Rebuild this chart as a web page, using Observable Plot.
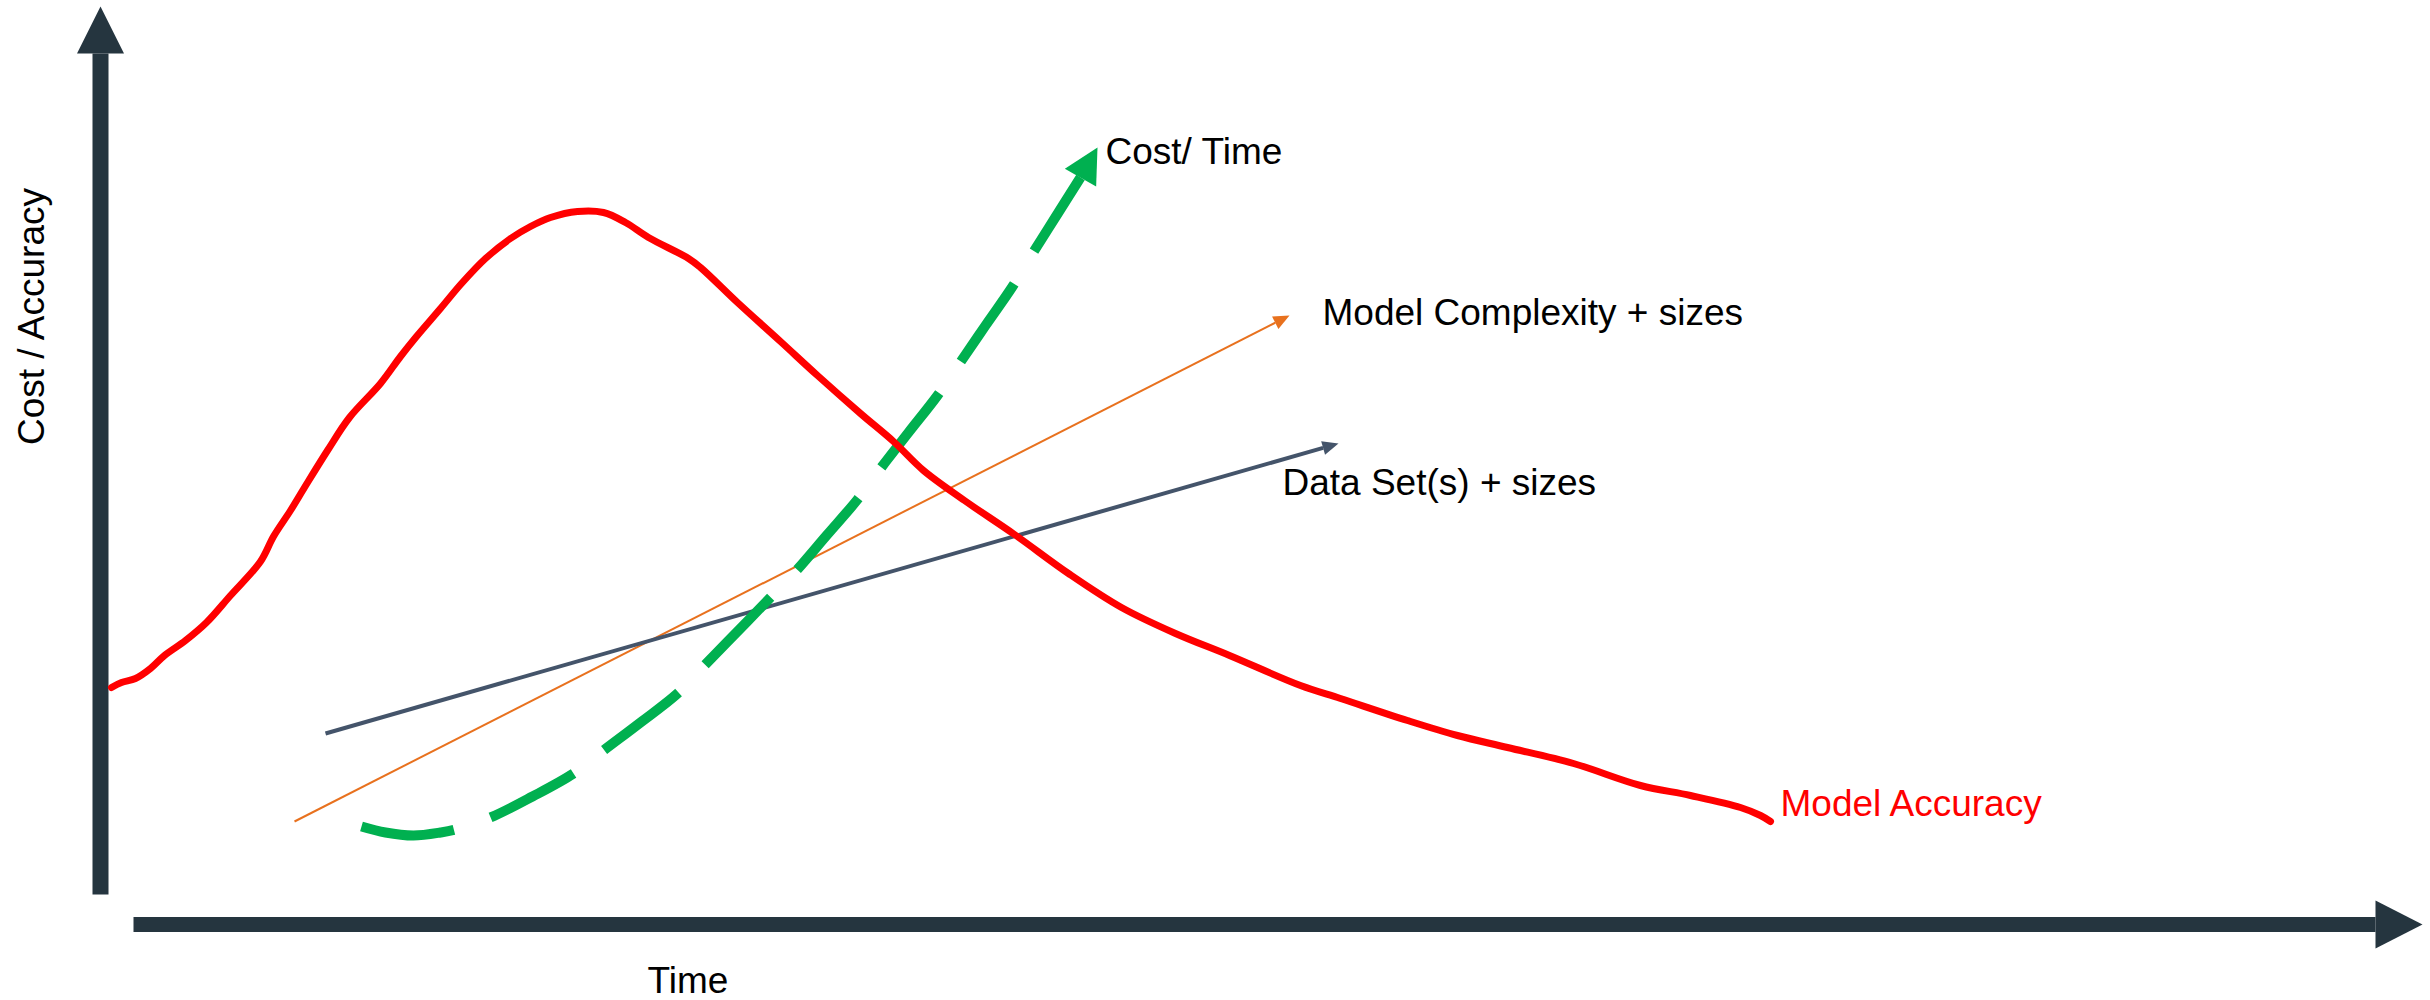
<!DOCTYPE html>
<html>
<head>
<meta charset="utf-8">
<script src="https://cdn.jsdelivr.net/npm/d3@7"></script>
<script src="https://cdn.jsdelivr.net/npm/@observablehq/plot@0.6"></script>
<style>
  html, body { margin: 0; padding: 0; background: #ffffff; }
  #chart { width: 2430px; height: 1000px; }
</style>
</head>
<body>
<div id="chart"></div>
<script>
// ---------- data (abstract units: time on x, cost / accuracy on y) ----------
const accuracyTime = [1.1, 2.1, 3.5, 5.0, 6.4, 8.5, 10.6, 13.0, 16.0, 17.3, 19.0, 20.4, 22.7, 24.9, 28.0, 30.0, 31.6, 34.0, 36.1, 38.5, 41.0, 43.0, 45.0, 47.7, 50.3, 52.5, 54.8, 58.8, 60.0, 63.7, 68.0, 71.7, 76.0, 79.3, 82.3, 86.4, 91.4, 96.8, 102.1, 107.5, 112.9, 120.0, 124.0, 130.7, 135.7, 140.7, 147.3, 154.0, 159.0, 164.0, 166.0, 167.0];
const accuracyValue = [23.9, 24.4, 24.8, 25.8, 27.1, 28.6, 30.4, 33.1, 36.5, 39.0, 41.6, 43.9, 47.6, 50.9, 54.3, 57.0, 59.0, 61.8, 64.3, 66.8, 68.8, 70.0, 70.9, 71.5, 71.4, 70.4, 68.9, 66.8, 65.9, 62.4, 58.5, 55.1, 51.3, 48.5, 45.6, 42.6, 39.2, 35.3, 31.9, 29.3, 27.1, 24.1, 22.8, 20.6, 19.1, 17.9, 16.3, 14.1, 13.1, 11.9, 11.1, 10.5];

const costTime  = [26.1, 28.5, 31.3, 34.0, 35.5, 39.0, 43.2, 47.3, 50.3, 54.0, 57.7, 60.4, 63.6, 66.8, 69.5, 72.6, 75.7, 78.0, 80.8, 83.7, 85.9, 88.5, 91.2, 93.2, 95.6, 98.0, 99.7];
const costValue = [10.0, 9.4, 9.1, 9.4, 9.7, 10.9, 13.0, 15.3, 17.6, 20.4, 23.3, 26.1, 29.4, 32.7, 35.5, 39.1, 42.7, 45.8, 49.4, 53.1, 56.3, 60.1, 64.0, 67.3, 71.1, 74.9, 77.9];

const complexityTime  = [19.4, 118.9];
const complexityValue = [10.5, 61.1];

const dataSetTime  = [22.5, 123.8];
const dataSetValue = [19.3, 48.3];

const axisXTime  = [3.3, 232.2];
const axisXValue = [0.2, 0.2];
const axisYTime  = [0, 0];
const axisYValue = [3.2, 92];

const seriesLabels = ["Cost/ Time", "Model Complexity + sizes", "Data Set(s) + sizes", "Model Accuracy"];
const seriesLabelTime  = [100.5, 122.2, 118.2, 168.0];
const seriesLabelValue = [76.3, 60.2, 43.2, 11.1];
const axisTitles = ["Time", "Cost / Accuracy"];

// ---------- helpers ----------
const zip = (ts, vs) => ts.map((t, i) => ({t, v: vs[i]}));

// Arrow: shaft up to the head base + filled triangle head
function arrow(points, len, width) {
  const tip = points[points.length - 1];
  const prev = points[points.length - 2];
  const dx = tip.t - prev.t, dy = tip.v - prev.v;
  const n = Math.hypot(dx, dy), ux = dx / n, uy = dy / n;
  const base = {t: tip.t - ux * len, v: tip.v - uy * len};
  const px = -uy * width / 2, py = ux * width / 2;
  const shaft = points.slice(0, -2).concat(
    (points.length > 2 && Math.hypot(prev.t - base.t, prev.v - base.v) < 0.3) ? [base] : [prev, base]
  );
  const head = [{t: base.t + px, v: base.v + py}, tip, {t: base.t - px, v: base.v - py}];
  return {shaft, head};
}

const accuracy = zip(accuracyTime, accuracyValue);
const cost = arrow(zip(costTime, costValue), 3.45, 3.6);
const complexity = arrow(zip(complexityTime, complexityValue), 1.6, 1.4);
const dataSet = arrow(zip(dataSetTime, dataSetValue), 1.6, 1.4);
const axisX = arrow(zip(axisXTime, axisXValue), 4.7, 4.8);
const axisY = arrow(zip(axisYTime, axisYValue), 4.7, 4.7);

const labels = zip(seriesLabelTime, seriesLabelValue).map((d, i) => ({...d, text: seriesLabels[i]}));

const AXIS = "#25353f";
const RED = "#ff0000";
const GREEN = "#00b050";
const ORANGE = "#e8711e";
const SLATE = "#44546a";
const FONT = "'Liberation Sans', Arial, Helvetica, sans-serif";
const FS = 37;

const chart = Plot.plot({
  width: 2430,
  height: 1000,
  marginLeft: 100,
  marginRight: 10,
  marginTop: 6,
  marginBottom: 74,
  x: {domain: [0, 232], axis: null},
  y: {domain: [0, 92], axis: null},
  style: {fontFamily: FONT, background: "#ffffff", overflow: "visible"},
  marks: [
    // axes
    Plot.line(axisY.shaft, {x: "t", y: "v", stroke: AXIS, strokeWidth: 16, strokeLinecap: "butt"}),
    Plot.line(axisY.head, {x: "t", y: "v", fill: AXIS, stroke: "none"}),
    Plot.line(axisX.shaft, {x: "t", y: "v", stroke: AXIS, strokeWidth: 15, strokeLinecap: "butt"}),
    Plot.line(axisX.head, {x: "t", y: "v", fill: AXIS, stroke: "none"}),

    // model complexity (orange)
    Plot.line(complexity.shaft, {x: "t", y: "v", stroke: ORANGE, strokeWidth: 2, strokeLinecap: "butt"}),
    Plot.line(complexity.head, {x: "t", y: "v", fill: ORANGE, stroke: "none"}),

    // data sets (slate)
    Plot.line(dataSet.shaft, {x: "t", y: "v", stroke: SLATE, strokeWidth: 4, strokeLinecap: "butt"}),
    Plot.line(dataSet.head, {x: "t", y: "v", fill: SLATE, stroke: "none"}),

    // cost / time (green dashed)
    Plot.line(cost.shaft, {x: "t", y: "v", stroke: GREEN, strokeWidth: 10, strokeLinecap: "butt",
      strokeDasharray: "94,38.5", curve: "catmull-rom"}),
    Plot.line(cost.head, {x: "t", y: "v", fill: GREEN, stroke: "none"}),

    // model accuracy (red)
    Plot.line(accuracy, {x: "t", y: "v", stroke: RED, strokeWidth: 7, curve: "catmull-rom",
      strokeLinecap: "round", strokeLinejoin: "round"}),

    // series labels
    Plot.text(labels.slice(0, 3), {x: "t", y: "v", text: "text", fill: "#000000", fontSize: FS,
      textAnchor: "start", lineAnchor: "bottom"}),
    Plot.text(labels.slice(3), {x: "t", y: "v", text: "text", fill: RED, fontSize: FS,
      textAnchor: "start", lineAnchor: "bottom"}),

    // axis titles
    Plot.text([axisTitles[0]], {x: 54.7, y: -6.6, text: d => d, fill: "#000000", fontSize: FS,
      textAnchor: "start", lineAnchor: "bottom"}),
    Plot.text([axisTitles[1]], {x: -5.7, y: 61.0, text: d => d, fill: "#000000", fontSize: FS,
      textAnchor: "middle", lineAnchor: "bottom", rotate: -90})
  ]
});

document.getElementById("chart").appendChild(chart);
</script>
</body>
</html>
